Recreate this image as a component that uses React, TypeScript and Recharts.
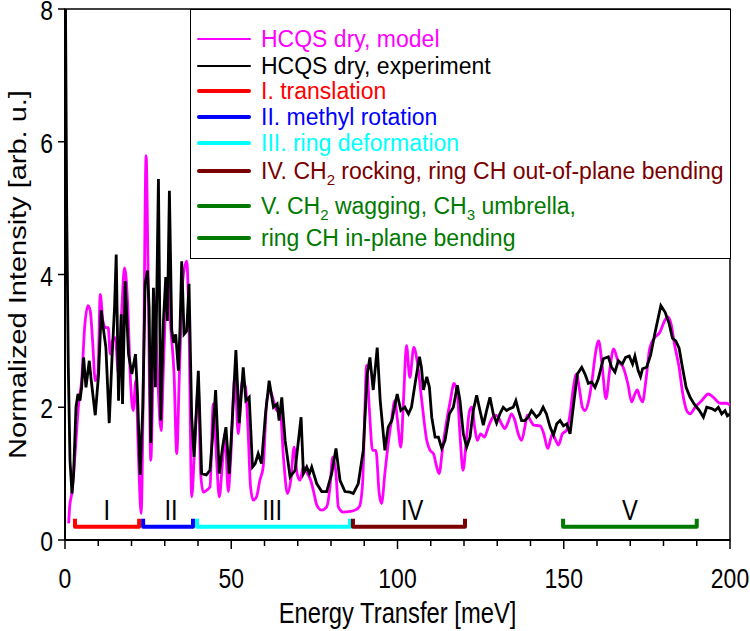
import { LineChart, Line, XAxis, YAxis, ReferenceArea, ReferenceDot } from 'recharts';

// HCQS dry, model (energy transfer in meV, normalized intensity)
const modelE = [
  1.1, 1.4, 2.1, 3.1, 4.1, 5.0, 5.9, 6.9, 7.6, 8.3, 9.1, 9.9, 10.6, 11.4, 12.2, 13.0, 13.6, 14.3, 15.1, 16.1,
  17.1, 17.9, 18.9, 19.6, 20.5, 21.3, 22.1, 22.9, 23.6, 24.4, 25.0, 25.8, 26.4, 26.8, 27.6, 28.9, 29.6, 30.4,
  31.0, 31.8, 32.8, 33.6, 34.4, 35.4, 36.6, 37.3, 38.1, 39.0, 40.1, 40.8, 41.6, 42.6, 43.6, 44.6, 45.6, 46.4,
  47.4, 48.1, 49.1, 49.8, 51.1, 52.1, 53.3, 54.3, 55.1, 55.8, 56.6, 57.6, 58.6, 59.6, 60.7, 61.7, 62.7, 63.7,
  64.7, 65.7, 66.9, 67.9, 68.9, 69.8, 70.7, 71.7, 72.9, 73.9, 74.9, 75.7, 77.2, 78.7, 79.7, 80.5, 81.5, 82.2,
  83.7, 85.7, 87.2, 88.5, 89.5, 90.1, 90.7, 91.5, 92.5, 93.5, 94.5, 95.2, 96.2, 97.2, 98.2, 99.2, 100.0, 101.0,
  101.8, 102.7, 103.7, 104.9, 105.9, 107.3, 108.8, 109.8, 110.8, 111.8, 112.5, 113.6, 114.8, 115.9, 117.0,
  118.0, 118.9, 119.7, 120.7, 121.7, 122.4, 123.2, 124.0, 125.0, 126.1, 127.3, 128.3, 129.3, 130.3, 131.3,
  132.3, 133.3, 134.3, 135.3, 136.3, 137.3, 138.3, 139.0, 140.0, 141.0, 142.9, 144.0, 145.2, 146.6, 147.6,
  148.4, 149.6, 150.8, 151.9, 152.9, 153.8, 154.8, 155.6, 156.4, 157.5, 158.5, 159.5, 160.5, 161.5, 162.7,
  163.8, 165.0, 166.3, 167.9, 169.3, 170.4, 171.4, 172.1, 172.9, 173.7, 174.7, 175.9, 177.4, 178.9, 180.3,
  181.3, 182.3, 183.3, 184.7, 185.8, 187.0, 188.0, 189.5, 191.5, 193.5, 195.0, 197.0, 199.0, 200.0,
];
const modelI = [
  0.25, 0.5, 0.72, 1.35, 2.05, 2.4, 3.2, 3.53, 3.45, 3.0, 2.4, 2.5, 3.7, 3.3, 3.2, 3.2, 2.8, 3.0, 3.05, 2.5,
  3.5, 4.1, 3.5, 2.5, 1.95, 2.4, 1.25, 0.4, 2.5, 5.79, 4.0, 1.2, 2.4, 3.7, 2.8, 1.65, 2.6, 3.66,
  3.9, 3.2, 2.5, 1.3, 2.5, 3.9, 4.2, 3.2, 0.65, 1.4, 2.3, 1.0, 0.72, 0.75, 0.8, 2.05, 1.2, 0.65,
  1.2, 1.6, 0.73, 1.2, 2.46, 1.6, 2.4, 2.3, 1.6, 0.8, 0.6, 0.65, 0.9, 1.1, 2.1, 2.25, 2.1, 1.95,
  1.95, 1.25, 0.7, 0.9, 1.4, 1.0, 0.9, 1.1, 1.0, 0.9, 0.7, 0.53, 0.45, 0.5, 0.8, 1.25, 1.0, 0.5,
  0.42, 0.43, 0.45, 0.5, 0.85, 1.8, 2.63, 2.0, 1.35, 1.35, 0.7, 0.55, 1.0, 1.45, 1.8, 2.1, 1.8, 1.4,
  2.1, 2.93, 2.45, 2.9, 2.7, 2.1, 1.5, 1.35, 1.3, 1.1, 1.0, 1.4, 1.8, 2.1, 2.36,
  2.2, 1.5, 1.05, 1.5, 1.95, 2.0, 1.7, 1.5, 1.6, 1.55, 1.7, 1.82, 1.88, 1.85, 1.75,
  1.68, 1.78, 1.9, 1.8, 1.6, 1.5, 1.7, 1.88, 1.8, 1.73, 1.72, 1.6, 1.38, 1.6, 1.5,
  1.43, 1.6, 1.65, 1.9, 2.3, 2.5, 2.25, 2.0, 1.95, 2.1, 2.4, 2.8, 3.0, 2.65, 2.13,
  2.55, 2.88, 2.7, 2.6, 2.35, 2.08, 2.2, 2.26, 2.15, 2.08, 2.4, 2.9, 3.05, 3.13, 3.3,
  3.36, 3.25, 2.95, 2.6, 2.2, 1.95, 1.9, 2.0, 2.1, 2.2, 2.15, 2.06, 2.06, 2.03,
];

// HCQS dry, experiment
const expE = [
  0.1, 0.5, 1.0, 1.5, 2.1, 2.6, 3.3, 3.9, 4.5, 5.0, 5.6, 6.3, 7.3, 7.9, 9.1, 10.1, 10.9, 11.5, 12.3, 13.3,
  14.1, 14.9, 15.4, 16.1, 16.9, 17.3, 18.1, 19.1, 20.1, 21.2, 21.8, 22.6, 23.4, 24.1, 24.8, 25.3, 25.8, 26.6,
  27.2, 28.1, 28.8, 29.6, 30.3, 30.8, 31.4, 32.1, 32.7, 33.3, 34.1, 34.6, 35.1, 35.8, 36.6, 37.3, 38.1, 38.8,
  40.1, 41.1, 42.5, 43.6, 44.3, 45.3, 46.4, 47.4, 48.4, 49.4, 50.4, 51.4, 52.4, 53.6, 54.4, 55.4, 56.4, 57.2,
  58.1, 59.1, 60.3, 61.4, 62.7, 63.8, 64.4, 65.2, 66.2, 67.7, 69.2, 71.0, 71.7, 72.7, 73.5, 74.2, 75.7, 77.2,
  78.7, 80.2, 81.5, 82.7, 84.2, 85.7, 86.7, 88.2, 89.7, 90.9, 91.7, 92.7, 93.9, 94.8, 96.2, 97.2, 98.3, 99.9,
  101.0, 102.2, 103.3, 104.2, 105.3, 106.6, 107.2, 107.8, 108.8, 109.6, 110.3, 111.3, 112.3, 113.3, 114.3,
  115.6, 116.8, 118.0, 118.8, 119.8, 120.8, 121.8, 122.8, 123.8, 124.8, 125.8, 126.8, 127.8, 128.8, 129.8,
  130.8, 131.8, 132.8, 133.8, 134.8, 135.6, 136.4, 137.3, 138.3, 139.3, 140.3, 141.8, 142.8, 143.8, 144.8,
  145.9, 146.9, 147.9, 148.9, 149.9, 150.9, 151.9, 153.1, 154.1, 155.4, 156.4, 157.4, 158.4, 159.4, 160.4,
  161.9, 163.4, 164.4, 165.4, 166.4, 167.6, 168.6, 169.7, 170.7, 171.4, 172.4, 173.1, 173.7, 174.9, 176.1,
  177.4, 179.2, 180.5, 181.7, 182.7, 183.7, 184.7, 185.7, 186.8, 188.0, 189.2, 190.8, 192.0, 193.0, 194.5,
  195.5, 196.5, 197.5, 198.5, 199.2, 200.0,
];
const expI = [
  8.5, 5.0, 2.6, 1.2, 0.7, 1.0, 2.0, 2.2, 2.1, 2.3, 2.75, 2.3, 2.7, 2.4, 1.88, 2.5, 3.46, 3.2, 2.9, 1.76,
  2.7, 3.5, 4.3, 2.1, 3.4, 2.05, 3.9, 2.8, 2.5, 2.8, 2.2, 0.98, 2.0, 3.86, 4.06, 3.5, 1.46, 3.8,
  2.3, 5.44, 1.8, 3.3, 3.96, 3.3, 5.26, 3.16, 2.97, 3.1, 2.55, 3.2, 4.2, 3.1, 3.15, 3.86, 1.85, 1.25,
  2.55, 1.0, 0.98, 1.05, 1.5, 2.26, 1.0, 1.4, 1.7, 1.0, 1.9, 2.86, 1.76, 2.6, 2.1, 2.15, 1.1, 1.15,
  1.3, 1.15, 1.9, 2.4, 2.0, 2.05, 1.8, 2.15, 1.5, 0.95, 1.05, 1.85, 1.0, 1.1, 1.0, 1.1, 0.85, 0.73,
  0.73, 1.0, 1.38, 0.9, 0.73, 0.72, 0.7, 0.85, 1.35, 2.5, 2.75, 2.26, 2.9, 2.1, 1.35, 1.7, 1.8, 2.2,
  1.95, 2.0, 1.9, 2.0, 2.36, 2.76, 2.6, 2.26, 2.46, 2.3, 1.85, 1.55, 1.55, 1.38, 1.5,
  1.9, 2.0, 2.33, 2.1, 1.6, 1.4, 1.55, 1.95, 2.18, 1.95, 1.73, 1.95, 2.15, 1.9, 1.76,
  1.9, 2.0, 1.95, 1.98, 2.0, 2.1, 1.95, 1.8, 1.8, 1.85, 1.95, 1.85, 1.9, 2.0, 1.9,
  1.7, 1.58, 1.75, 1.8, 1.72, 1.75, 1.6, 2.1, 2.5, 2.6, 2.5, 2.36, 2.38, 2.3, 2.43,
  2.73, 2.76, 2.6, 2.53, 2.7, 2.65, 2.75, 2.77, 2.65, 2.77, 2.55, 2.46, 2.58, 2.6, 2.78,
  3.11, 3.53, 3.43, 3.26, 3.04, 3.0, 2.89, 2.6, 2.3, 2.15, 2.05, 1.95, 1.85, 2.0, 1.98,
  1.95, 2.0, 1.9, 1.95, 1.87, 1.9,
];

// assignment ranges
const rangeNames = ['I', 'II', 'III', 'IV', 'V'];
const rangeStart = [3.0, 23.5, 39.7, 86.6, 149.8];
const rangeEnd = [22.3, 38.5, 85.7, 120.3, 190.0];
const rangeLabelE = [12.6, 31.9, 62.3, 104.4, 169.9];
const rangeColors = ['#ff0000', '#0000ff', '#00ffff', '#7a0000', '#007a00'];

const xTicks = [0, 10, 20, 30, 40, 50, 60, 70, 80, 90, 100, 110, 120, 130, 140, 150, 160, 170, 180, 190, 200];
const yTicks = [0, 2, 4, 6, 8];

const BAR_LEVEL = 0.2;
const BAR_CAP = 0.32;
const LABEL_LEVEL = 0.45;

const FONT = "'Liberation Sans', Arial, sans-serif";

const modelData = modelE.map((e, i) => ({ e, v: modelI[i] }));
const expData = expE.map((e, i) => ({ e, v: expI[i] }));
const rangeData = rangeNames.map((_, i) => [
  { e: rangeStart[i], v: BAR_CAP },
  { e: rangeStart[i], v: BAR_LEVEL },
  { e: rangeEnd[i], v: BAR_LEVEL },
  { e: rangeEnd[i], v: BAR_CAP },
]);

const XTick = ({ x, y, payload }: any) => {
  const major = payload.value % 50 === 0;
  return (
    <g>
      <line x1={x} x2={x} y1={y} y2={y + (major ? 9 : 6)} stroke="#000" strokeWidth={1.5} />
      {major && (
        <text
          transform={`translate(${x},${y + 48}) scale(0.82,1)`}
          textAnchor="middle"
          fontSize={28}
          fontFamily={FONT}
          fill="#000"
        >
          {payload.value}
        </text>
      )}
    </g>
  );
};

const YTick = ({ x, y, payload }: any) => (
  <g>
    <line x1={x - 7} x2={x} y1={y} y2={y} stroke="#000" strokeWidth={1.5} />
    <text
      transform={`translate(${x - 12},${y + 11}) scale(0.82,1)`}
      textAnchor="end"
      fontSize={28}
      fontFamily={FONT}
      fill="#000"
    >
      {payload.value}
    </text>
  </g>
);

const XTitle = ({ viewBox }: any) => (
  <text
    transform={`translate(${viewBox.x + viewBox.width / 2},${viewBox.y + 83}) scale(0.82,1)`}
    textAnchor="middle"
    fontSize={29}
    fontFamily={FONT}
    fill="#000"
  >
    Energy Transfer [meV]
  </text>
);

const YTitle = ({ viewBox }: any) => (
  <text
    transform={`translate(${viewBox.x + 26},${viewBox.y + viewBox.height / 2}) rotate(-90) scale(1,0.82)`}
    textAnchor="middle"
    fontSize={29}
    fontFamily={FONT}
    fill="#000"
  >
    Normalized Intensity [arb. u.]
  </text>
);

const RangeLabel = ({ viewBox, text }: any) => (
  <text
    transform={`translate(${viewBox.x},${viewBox.y + 10}) scale(0.82,1)`}
    textAnchor="middle"
    fontSize={29}
    fontFamily={FONT}
    fill="#000"
  >
    {text}
  </text>
);

const sub = { fontSize: 15, lineHeight: 0 };

const legendRows = [
  { label: <>HCQS dry, model</>, color: '#ff00ff', thick: 2.5, y: 38 },
  { label: <>HCQS dry, experiment</>, color: '#000', thick: 2.5, y: 65 },
  { label: <>I. translation</>, color: '#ff0000', thick: 4, y: 90 },
  { label: <>II. methyl rotation</>, color: '#0000ff', thick: 4, y: 116 },
  { label: <>III. ring deformation</>, color: '#00ffff', thick: 4, y: 142 },
  {
    label: <>IV. CH<sub style={sub}>2</sub> rocking, ring CH out-of-plane bending</>,
    color: '#7a0000', thick: 4, y: 170,
  },
  {
    label: <>V. CH<sub style={sub}>2</sub> wagging, CH<sub style={sub}>3</sub> umbrella,</>,
    color: '#007a00', thick: 4, y: 205,
  },
  { label: <>ring CH in-plane bending</>, color: '#007a00', thick: 4, y: 237 },
];

function LegendBox() {
  return (
    <div
      style={{
        position: 'absolute',
        left: 190,
        top: 9,
        width: 541,
        height: 250,
        boxSizing: 'border-box',
        border: '1.5px solid #000',
        background: '#fff',
        fontFamily: FONT,
      }}
    >
      {legendRows.map((r, i) => (
        <div key={i} style={{ position: 'absolute', left: 0, top: r.y - 9 - 14, height: 28, display: 'flex', alignItems: 'center' }}>
          <div style={{ marginLeft: 6, width: 54, height: r.thick, background: r.color, borderRadius: 2 }} />
          <span style={{ marginLeft: 10, fontSize: 23, color: r.color, whiteSpace: 'nowrap', lineHeight: '28px' }}>{r.label}</span>
        </div>
      ))}
    </div>
  );
}

export default function App() {
  return (
    <div style={{ position: 'absolute', left: 0, top: 0, width: 750, height: 631, background: '#fff' }}>
      <LineChart width={750} height={631} margin={{ top: 9, right: 20, left: 0, bottom: 0 }}>
        <XAxis
          dataKey="e"
          type="number"
          domain={[0, 200]}
          ticks={xTicks}
          interval={0}
          tick={<XTick />}
          tickSize={0}
          tickMargin={0}
          tickLine={false}
          axisLine={{ stroke: '#000', strokeWidth: 2 }}
          height={91}
          label={<XTitle />}
          allowDataOverflow
        />
        <YAxis
          type="number"
          domain={[0, 8]}
          ticks={yTicks}
          interval={0}
          tick={<YTick />}
          tickSize={0}
          tickMargin={0}
          tickLine={false}
          axisLine={{ stroke: '#000', strokeWidth: 2 }}
          width={65}
          label={<YTitle />}
          allowDataOverflow
        />
        <ReferenceArea x1={0} x2={200} y1={0} y2={8} fill="none" stroke="#000" strokeWidth={1.5} />
        <Line data={modelData} dataKey="v" type="monotone" stroke="#ff00ff" strokeWidth={2.8} dot={false} isAnimationActive={false} />
        <Line data={expData} dataKey="v" type="linear" stroke="#000" strokeWidth={2.8} dot={false} isAnimationActive={false} />
        {rangeData.map((d, i) => (
          <Line
            key={rangeNames[i]}
            data={d}
            dataKey="v"
            type="linear"
            stroke={rangeColors[i]}
            strokeWidth={4}
            strokeLinejoin="round"
            dot={false}
            isAnimationActive={false}
          />
        ))}
        {rangeNames.map((n, i) => (
          <ReferenceDot
            key={'lbl-' + n}
            x={rangeLabelE[i]}
            y={LABEL_LEVEL}
            r={0}
            fill="none"
            stroke="none"
            label={<RangeLabel text={n} />}
          />
        ))}
      </LineChart>
      <LegendBox />
    </div>
  );
}
